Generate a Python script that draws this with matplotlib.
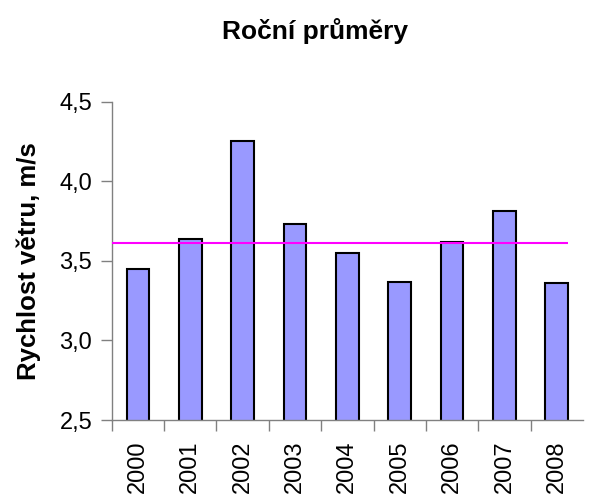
import numpy as np
import matplotlib.pyplot as plt

plt.rcParams['font.family'] = ['Liberation Sans', 'DejaVu Sans']

years = ['2000', '2001', '2002', '2003', '2004', '2005', '2006', '2007', '2008']
speeds = [3.45, 3.64, 4.25, 3.73, 3.55, 3.37, 3.62, 3.81, 3.36]
average = 3.61

fig = plt.figure(figsize=(5.89, 5.03), dpi=100)
ax = fig.add_axes([0.1897, 0.165, 0.80, 0.633])

x = np.arange(len(years))
ax.bar(x, speeds, width=0.43, color='#9999FF', edgecolor='black', linewidth=1.5, zorder=2)
ax.hlines(average, -0.5, 8.22, color='#FF00FF', linewidth=1.5, zorder=3)

ax.set_xlim(-0.5, len(years) - 0.5)
ax.set_ylim(2.5, 4.5)
ax.set_yticks([2.5, 3.0, 3.5, 4.0, 4.5])
ax.set_yticklabels(['2,5', '3,0', '3,5', '4,0', '4,5'], fontsize=17)

# ticks between categories, labels on the categories
ax.set_xticks(np.arange(-0.5, len(years) - 0.5, 1))
ax.set_xticklabels([])
ax.set_xticks(x, minor=True)
ax.set_xticklabels(years, minor=True, rotation=90, fontsize=17)
ax.tick_params(axis='x', which='minor', length=0, pad=15)
ax.tick_params(axis='x', which='major', length=8, color='#808080', width=1)
ax.tick_params(axis='y', length=8, color='#808080', width=1, pad=6)

for s in ['top', 'right']:
    ax.spines[s].set_visible(False)
for s in ['left', 'bottom']:
    ax.spines[s].set_color('#808080')
    ax.spines[s].set_linewidth(1)

ax.set_ylabel('Rychlost větru, m/s', fontsize=18.5, fontweight='bold', labelpad=13)
fig.text(315 / 589, 1 - 31 / 503, 'Roční průměry', ha='center', va='center',
         fontsize=19, fontweight='bold')

fig.savefig('out.png', dpi=100)
